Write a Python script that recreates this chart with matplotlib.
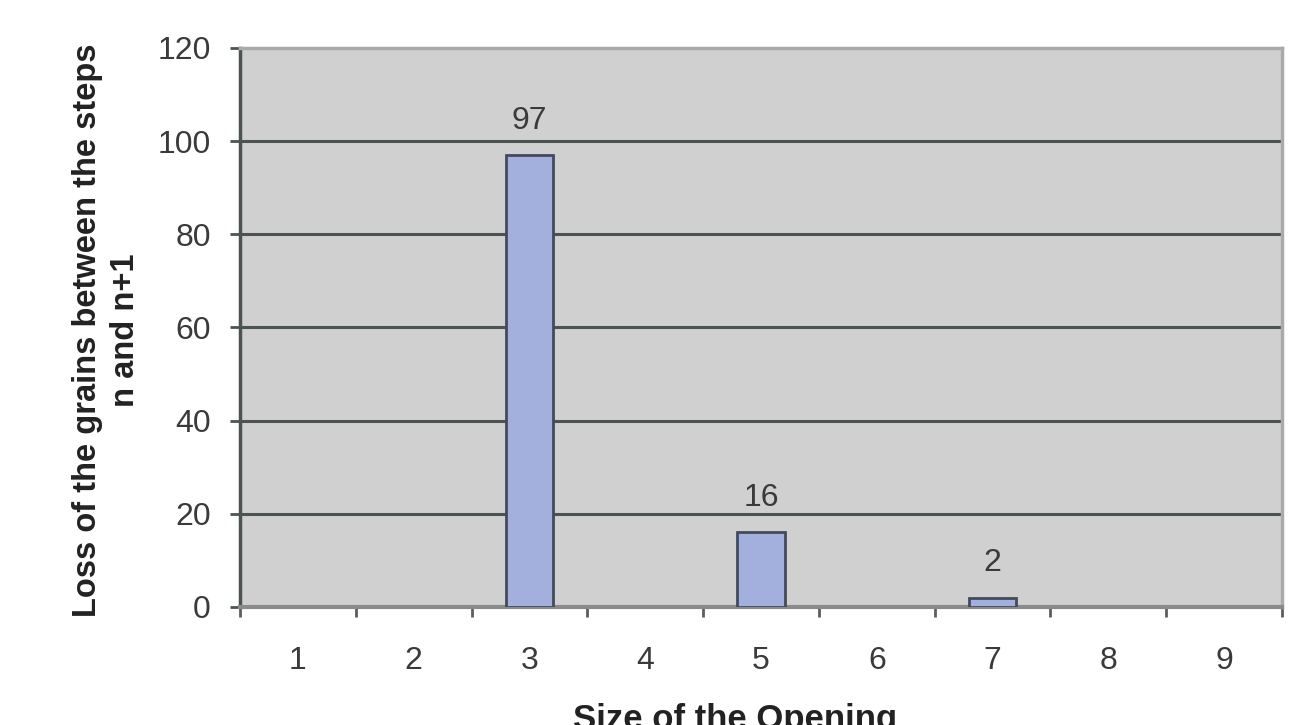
import matplotlib
matplotlib.use("Agg")
import matplotlib.pyplot as plt
import numpy as np

# Grain loss per opening size
sizes = ["1", "2", "3", "4", "5", "6", "7", "8", "9"]
loss = [0, 0, 97, 0, 16, 0, 2, 0, 0]
y_ticks = [0, 20, 40, 60, 80, 100, 120]

plt.rcParams["font.family"] = ["Liberation Sans", "DejaVu Sans"]
text_color = "#3a3a3a"
fs = 23

fig = plt.figure(figsize=(13.03, 7.25), dpi=100)
ax = fig.add_axes([0.1842, 0.1628, 0.7997, 0.771])
ax.set_facecolor("#d0d0d0")

x = np.arange(len(sizes))
vals = np.array(loss)
nonzero = vals > 0
ax.bar(x[nonzero], vals[nonzero], width=0.41,
       color="#a3b0de", edgecolor="#434a5c", linewidth=2.0, zorder=3)
for xi, v in zip(x[nonzero], vals[nonzero]):
    ax.annotate(str(v), (xi, v), xytext=(0, 14), textcoords="offset points",
                ha="center", va="bottom", fontsize=fs, color=text_color)

ax.set_xlim(-0.5, len(sizes) - 0.5)
ax.set_ylim(0, 120)

# Horizontal gridlines
for t in y_ticks[1:-1]:
    ax.axhline(t, color="#4b5452", linewidth=2.2, zorder=1)

ax.set_yticks(y_ticks)
ax.set_yticklabels([str(t) for t in y_ticks], fontsize=fs, color=text_color)
ax.tick_params(axis="y", direction="out", length=7, width=2, color="#4b5452", pad=14)

# Category boundaries carry ticks, centres carry the labels
ax.set_xticks(np.arange(-0.5, len(sizes)), minor=False)
ax.set_xticklabels([])
ax.set_xticks(x, minor=True)
ax.set_xticklabels(sizes, minor=True, fontsize=fs, color=text_color)
ax.tick_params(axis="x", which="major", direction="out", length=7, width=2, color="#5a5f5e")
ax.tick_params(axis="x", which="minor", length=0, pad=28)

ax.spines["left"].set_color("#4b5452")
ax.spines["left"].set_linewidth(2.5)
ax.spines["bottom"].set_color("#8a8a8a")
ax.spines["bottom"].set_linewidth(3)
ax.spines["top"].set_color("#aaaaaa")
ax.spines["top"].set_linewidth(2.5)
ax.spines["right"].set_color("#aaaaaa")
ax.spines["right"].set_linewidth(2.5)

fig.text(0.0815, 0.545, "Loss of the grains between the steps\nn and n+1",
         rotation=90, ha="center", va="center", fontsize=23.5, fontweight="bold",
         color="#222222", multialignment="center", linespacing=1.3)
fig.text(0.564, 0.031, "Size of the Opening", ha="center", va="top",
         fontsize=25, fontweight="bold", color="#222222")

fig.savefig("out.png", dpi=100)
